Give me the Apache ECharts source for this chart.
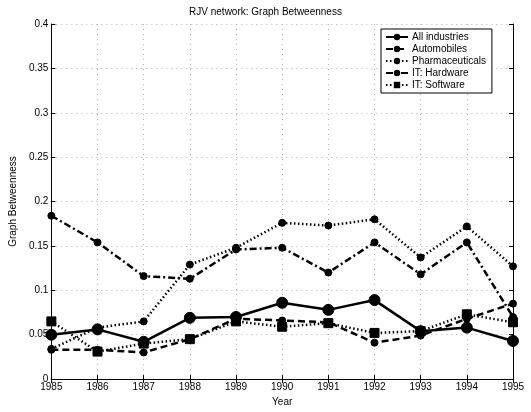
<!DOCTYPE html>
<html>
<head>
<meta charset="utf-8">
<script src="https://cdn.jsdelivr.net/npm/echarts@6/dist/echarts.min.js"></script>
<style>html,body{margin:0;padding:0;background:#fff}#c{width:531px;height:412px}</style>
</head>
<body>
<div id="c"></div>
<script>
var years = ['1985','1986','1987','1988','1989','1990','1991','1992','1993','1994','1995'];
var allIndustries = [0.050, 0.056, 0.042, 0.069, 0.070, 0.086, 0.078, 0.089, 0.054, 0.058, 0.043];
var automobiles   = [0.033, 0.033, 0.030, 0.045, 0.068, 0.066, 0.064, 0.041, 0.049, 0.068, 0.085];
var pharma        = [0.034, 0.058, 0.065, 0.129, 0.148, 0.176, 0.173, 0.180, 0.137, 0.172, 0.127];
var itHardware    = [0.184, 0.154, 0.116, 0.113, 0.146, 0.148, 0.120, 0.154, 0.118, 0.154, 0.070];
var itSoftware    = [0.065, 0.031, 0.040, 0.045, 0.065, 0.059, 0.063, 0.052, 0.054, 0.073, 0.064];

var font = 'Liberation Sans, Arial, Helvetica, sans-serif';
var chart = echarts.init(document.getElementById('c'));
function ser(name, data, type, width, symbol, size) {
  return {
    name: name, type: 'line', data: data, xAxisIndex: 0, yAxisIndex: 0,
    symbol: symbol, symbolSize: size, showAllSymbol: true,
    lineStyle: { color: '#000', width: width, type: type },
    itemStyle: { color: '#000', borderColor: '#000' },
    emphasis: { disabled: true }, animation: false
  };
}
var splitDotted = { show: true, lineStyle: { color: '#b0b0b0', type: [1, 4], width: 1 } };
chart.setOption({
  animation: false,
  backgroundColor: '#fff',
  title: {
    text: 'RJV network: Graph Betweenness', left: 'center', top: 2,
    textStyle: { fontFamily: font, fontSize: 10, fontWeight: 'normal', color: '#000' }
  },
  legend: {
    orient: 'vertical', left: 381, top: 29,
    padding: [3, 6, 3, 4], itemGap: 2, itemWidth: 22, itemHeight: 8,
    borderColor: '#000', borderWidth: 1, backgroundColor: '#fff',
    textStyle: { fontFamily: font, fontSize: 10, color: '#000', padding: [0, 0, 0, -1] },
    data: ['All industries', 'Automobiles', 'Pharmaceuticals', 'IT: Hardware', 'IT: Software']
  },
  grid: { left: 50, right: 18, top: 24, bottom: 25.5, containLabel: false },
  xAxis: [{
    type: 'category', data: years, boundaryGap: false, position: 'bottom',
    name: 'Year', nameLocation: 'middle', nameGap: 16,
    nameTextStyle: { fontFamily: font, fontSize: 10, color: '#000' },
    axisLine: { lineStyle: { color: '#000', width: 1 } },
    axisTick: { inside: true, length: 4, lineStyle: { color: '#000' } },
    axisLabel: { fontFamily: font, fontSize: 10, color: '#000', margin: 3 },
    splitLine: splitDotted
  }, {
    type: 'category', data: years, boundaryGap: false, position: 'top',
    axisLine: { lineStyle: { color: '#000', width: 1 } },
    axisTick: { inside: true, length: 4, lineStyle: { color: '#000' } },
    axisLabel: { show: false }, splitLine: { show: false }
  }],
  yAxis: [{
    type: 'value', min: 0, max: 0.4, interval: 0.05, position: 'left',
    name: 'Graph Betweenness', nameLocation: 'middle', nameGap: 32,
    nameTextStyle: { fontFamily: font, fontSize: 10, color: '#000' },
    axisLine: { show: true, lineStyle: { color: '#000', width: 1 } },
    axisTick: { show: true, inside: true, length: 4, lineStyle: { color: '#000' } },
    axisLabel: { fontFamily: font, fontSize: 10, color: '#000', margin: 3 },
    splitLine: splitDotted
  }, {
    type: 'value', min: 0, max: 0.4, interval: 0.05, position: 'right',
    axisLine: { show: true, lineStyle: { color: '#000', width: 1 } },
    axisTick: { show: true, inside: true, length: 4, lineStyle: { color: '#000' } },
    axisLabel: { show: false }, splitLine: { show: false }
  }],
  series: [
    ser('All industries', allIndustries, 'solid', 2.5, 'circle', 11),
    ser('Automobiles', automobiles, [7, 4], 2.5, 'circle', 7),
    ser('Pharmaceuticals', pharma, [1.5, 2.5], 2.5, 'circle', 7),
    ser('IT: Hardware', itHardware, [7, 3, 2, 3], 2.5, 'circle', 7),
    ser('IT: Software', itSoftware, [1.5, 2.5], 2.5, 'rect', 9)
  ]
});
</script>
</body>
</html>
